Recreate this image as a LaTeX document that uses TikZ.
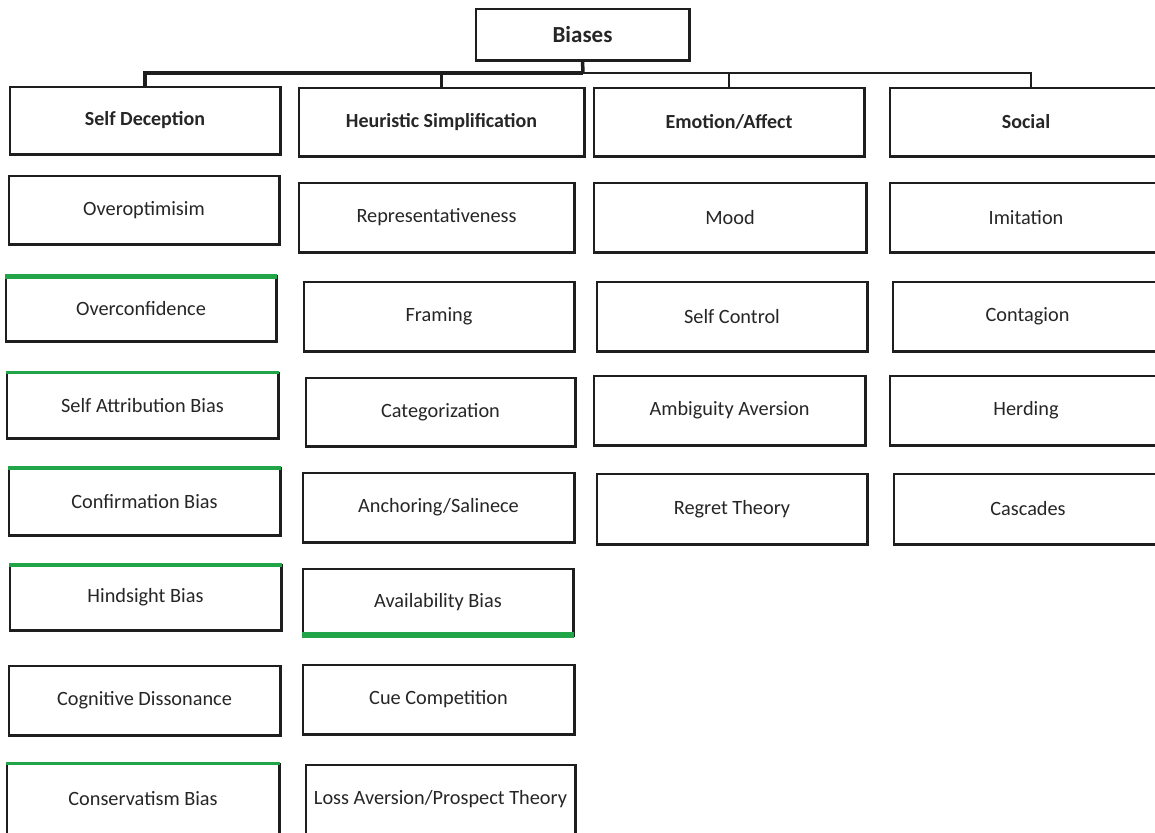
\documentclass[tikz,border=0pt]{standalone}
\usepackage{fontspec}
\setmainfont{Carlito}
\definecolor{txt}{RGB}{38,38,38}
\definecolor{edge}{RGB}{30,30,30}
\definecolor{grn}{RGB}{34,164,72}
\begin{document}
\begin{tikzpicture}[x=1pt,y=-1pt,
  bx/.style={draw=edge, line width=1.3pt, fill=white, rectangle, inner sep=0pt,
    text=txt, font=\fontsize{20.3}{23}\selectfont, align=center},
  hd/.style={bx, font=\fontsize{20}{23}\selectfont\bfseries},
  rt/.style={bx, font=\fontsize{23}{26}\selectfont\bfseries},
  heavy/.style={draw=edge, line width=3pt},
  bus/.style={draw=edge, line width=3pt},
  gbar/.style={draw=grn, line cap=butt}]
\useasboundingbox[fill=white] (0,0) rectangle (1155,832);

\newcommand\mybox[7][bx]{%
  \node[#1, minimum width={#5-#3}, minimum height={#6-#4}] (#2) at ({(#3+#5)/2},{(#4+#6)/2}) {#7};
  \draw[heavy] (#2.north east) -- (#2.south east) -- (#2.south west);}

% root
\mybox[rt]{root}{476}{9}{689}{60}{Biases}

% categories
\mybox[hd]{sd}{10}{87}{280}{154}{Self Deception}
\mybox[hd]{hs}{299}{88}{584}{156}{Heuristic Simplification}
\mybox[hd]{ea}{594}{88}{864}{156}{Emotion/Affect}
\mybox[hd]{so}{890}{88}{1162}{156}{Social}

% column 1
\mybox{a1}{9}{176}{279}{244}{Overoptimisim}
\mybox{a2}{6}{276}{276}{341}{Overconfidence}
\mybox{a3}{7}{373}{278}{438}{Self Attribution Bias}
\mybox{a4}{9}{468}{280}{535}{Confirmation Bias}
\mybox{a5}{10}{565}{281}{630}{Hindsight Bias}
\mybox{a6}{9}{666}{280}{735}{Cognitive Dissonance}
\mybox{a7}{7}{764}{279}{834}{Conservatism Bias}

% column 2
\mybox{b1}{299}{183}{574}{252}{Representativeness}
\mybox{b2}{304}{282}{574}{351}{Framing}
\mybox{b3}{306}{378}{575}{446}{Categorization}
\mybox{b4}{303}{473}{574}{542}{Anchoring/Salinece}
\mybox{b5}{303}{569}{573}{635}{Availability Bias}
\mybox{b6}{303}{665}{574}{734}{Cue Competition}
\mybox{b7}{306}{765}{575}{834}{Loss Aversion/Prospect Theory}

% column 3
\mybox{c1}{594}{183}{866}{252}{Mood}
\mybox{c2}{597}{282}{867}{351}{Self Control}
\mybox{c3}{594}{376}{865}{445}{Ambiguity Aversion}
\mybox{c4}{597}{474}{867}{544}{Regret Theory}

% column 4
\mybox{d1}{890}{183}{1162}{252}{Imitation}
\mybox{d2}{893}{282}{1162}{351}{Contagion}
\mybox{d3}{890}{376}{1162}{445}{Herding}
\mybox{d4}{894}{474}{1162}{544}{Cascades}

% green accents
\draw[gbar, line width=5pt] ([yshift=-1pt]a2.north west) -- ([yshift=-1pt]a2.north east);
\draw[gbar, line width=2.5pt] (a3.north west) -- (a3.north east);
\draw[gbar, line width=4pt] ([yshift=-1pt]a4.north west) -- ([yshift=-1pt]a4.north east);
\draw[gbar, line width=4pt] ([yshift=-1pt]a5.north west) -- ([yshift=-1pt]a5.north east);
\draw[gbar, line width=2.5pt] (a7.north west) -- (a7.north east);
\draw[gbar, line width=6pt] ([yshift=1pt]b5.south west) -- ([yshift=1pt]b5.south east);

% connectors
\coordinate (j) at (583,73);
\draw[bus, line width=3.5pt] (root.south) -- (j);
\draw[bus, line width=3.5pt] (sd.north) |- (j);
\draw[bus, line width=3.5pt] (hs.north) |- (j);
\draw[bus, line width=2.5pt] (ea.north) |- (j);
\draw[bus, line width=2.5pt] ([xshift=5pt]so.north) |- (j);
\end{tikzpicture}
\end{document}
